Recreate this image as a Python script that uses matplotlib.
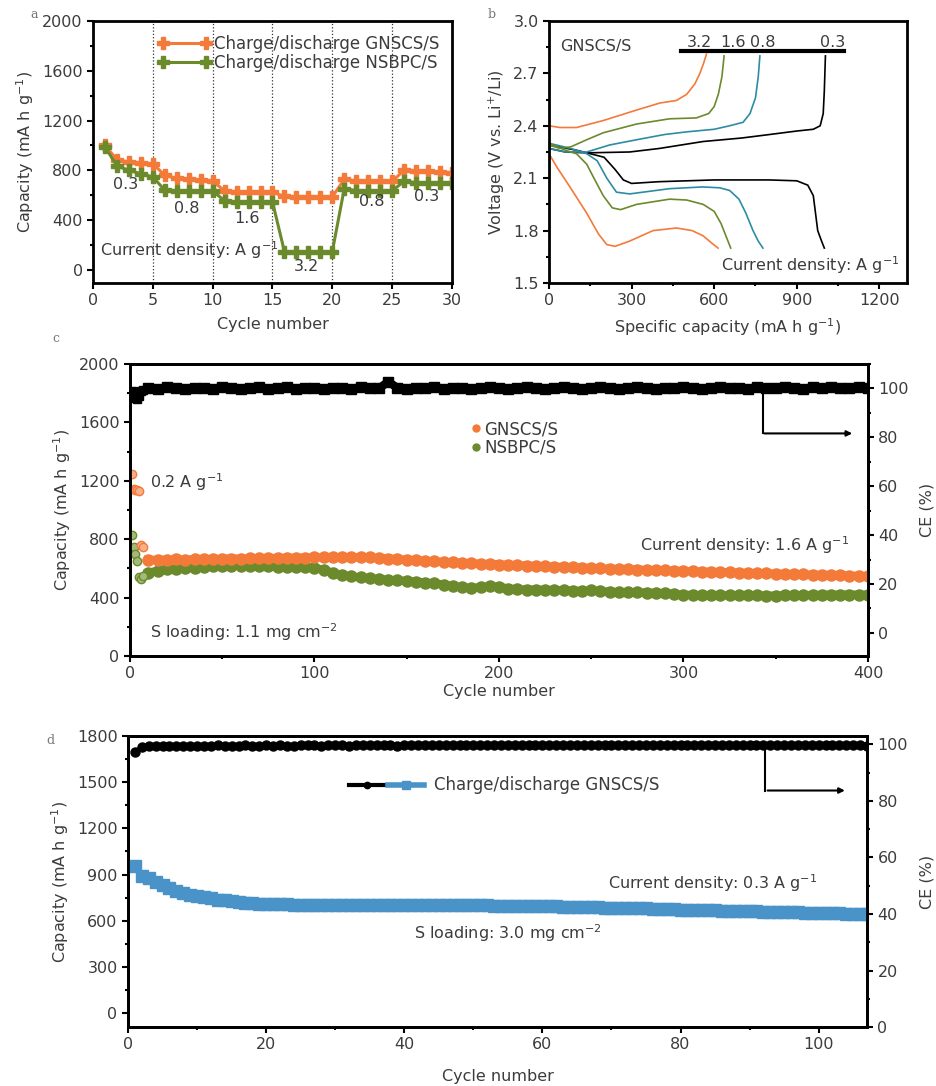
import matplotlib
matplotlib.use("Agg")
import matplotlib.pyplot as plt
import numpy as np
from matplotlib.ticker import MultipleLocator
from matplotlib.legend_handler import HandlerTuple

plt.rcParams['font.family'] = ['DejaVu Sans']
TXT = '#3c3c3c'
ORANGE = '#f47a3a'
GREEN = '#6b8a2c'
TEAL = '#2d8ca3'
BLUE = '#4a93c8'

# ---- panel a: rate capability ----
rate_cycles = np.arange(1, 31)
rate_gnscs = [1000, 885, 867, 861, 853, 760, 735, 728, 720, 715,
              635, 628, 627, 627, 625, 590, 587, 587, 587, 587,
              728, 714, 712, 712, 712, 800, 798, 792, 785, 780]
rate_nsbpc = [988, 835, 800, 773, 747, 640, 635, 635, 635, 635,
              555, 547, 547, 547, 547, 147, 147, 147, 147, 147,
              653, 637, 635, 635, 635, 712, 702, 700, 700, 700]
rate_labels = ['0.3', '0.8', '1.6', '3.2', '0.8', '0.3']
rate_label_x = [2.7, 7.8, 12.9, 17.8, 23.3, 27.9]
rate_label_y = [683, 490, 410, 25, 546, 587]

# ---- panel b: voltage profiles of GNSCS/S (capacity, voltage) ----
dis_32_c = [0, 30, 76, 137, 180, 210, 240, 293, 378, 463, 520, 560, 590, 614]
dis_32_v = [2.24, 2.16, 2.05, 1.90, 1.78, 1.72, 1.71, 1.74, 1.80, 1.815, 1.80, 1.77, 1.73, 1.70]
chg_32_c = [0, 40, 100, 197, 318, 402, 463, 500, 530, 548, 562, 572]
chg_32_v = [2.40, 2.39, 2.39, 2.43, 2.49, 2.53, 2.545, 2.58, 2.64, 2.70, 2.76, 2.81]
dis_16_c = [0, 60, 100, 137, 170, 197, 230, 260, 318, 438, 500, 560, 600, 625, 645, 660]
dis_16_v = [2.30, 2.26, 2.24, 2.18, 2.08, 2.00, 1.93, 1.92, 1.95, 1.98, 1.975, 1.95, 1.91, 1.84, 1.76, 1.70]
chg_16_c = [0, 40, 80, 137, 197, 318, 438, 535, 580, 600, 615, 628, 636]
chg_16_v = [2.29, 2.27, 2.28, 2.32, 2.36, 2.41, 2.44, 2.445, 2.47, 2.51, 2.58, 2.68, 2.80]
dis_08_c = [0, 80, 137, 175, 210, 245, 293, 438, 559, 620, 656, 690, 715, 741, 760, 777]
dis_08_v = [2.30, 2.27, 2.24, 2.20, 2.10, 2.02, 2.01, 2.04, 2.05, 2.045, 2.03, 1.98, 1.90, 1.80, 1.74, 1.70]
chg_08_c = [0, 60, 137, 220, 318, 420, 499, 600, 656, 705, 730, 750, 760, 766]
chg_08_v = [2.27, 2.25, 2.25, 2.29, 2.32, 2.35, 2.365, 2.38, 2.40, 2.42, 2.47, 2.56, 2.68, 2.80]
dis_03_c = [0, 100, 200, 240, 270, 300, 400, 500, 600, 800, 900, 940, 960, 976, 990, 1000]
dis_03_v = [2.29, 2.26, 2.22, 2.15, 2.09, 2.07, 2.08, 2.085, 2.09, 2.09, 2.085, 2.06, 2.00, 1.80, 1.74, 1.70]
chg_03_c = [0, 60, 137, 293, 400, 560, 700, 801, 900, 960, 985, 996, 1000, 1002, 1004]
chg_03_v = [2.27, 2.25, 2.245, 2.25, 2.27, 2.31, 2.33, 2.35, 2.37, 2.38, 2.40, 2.47, 2.60, 2.70, 2.80]
prof_labels = ['3.2', '1.6', '0.8', '0.3']
prof_label_x = [547, 668, 777, 1031]

# ---- panel c: long cycling at 1.6 A/g ----
c_init_cycles = [1, 2, 3, 4, 5, 6, 7]
c_gnscs_init = [1250, 1145, 1140, 1135, 1130, 760, 745]
c_nsbpc_init = [830, 745, 700, 650, 540, 530, 548]
c_cycles = np.arange(10, 401, 5)
c_gnscs = [660, 658, 660, 662, 660, 663, 665, 664, 666, 668,
           667, 669, 670, 671, 672, 672, 673, 674, 675, 676,
           676, 677, 677, 676, 675, 672, 668, 664, 660, 656,
           652, 648, 645, 642, 638, 635, 632, 630, 627, 625,
           622, 620, 617, 615, 612, 610, 607, 605, 602, 600,
           598, 596, 594, 592, 590, 588, 586, 584, 582, 580,
           578, 576, 575, 573, 571, 569, 567, 566, 564, 562,
           561, 559, 557, 556, 554, 552, 551, 549, 547]
c_nsbpc = [570, 585, 595, 598, 600, 605, 610, 615, 620, 620,
           618, 617, 616, 614, 612, 611, 610, 610, 605, 590,
           570, 555, 545, 538, 532, 527, 522, 518, 515, 510,
           503, 497, 490, 480, 470, 466, 472, 478, 475, 462,
           458, 455, 455, 453, 452, 450, 448, 445, 450, 445,
           440, 438, 437, 436, 435, 432, 430, 425, 420, 418,
           417, 417, 416, 416, 415, 415, 415, 414, 414, 415,
           416, 417, 418, 419, 420, 420, 421, 420, 420]
c_ce_init = [99.0, 98.0, 96.0, 95.5, 97.0, 99.0, 99.5]
c_ce = [100.2, 99.8, 100.4, 100.0, 99.6, 100.3, 100.1, 99.9, 100.5, 100.0,
        99.7, 100.2, 100.4, 99.9, 100.1, 100.6, 99.8, 100.0, 100.3, 99.6,
        100.2, 100.0, 99.9, 100.4, 100.1, 100.0, 102.8, 100.2, 99.8, 100.3,
        100.0, 100.5, 99.9, 100.1, 100.3, 99.7, 100.0, 100.4, 100.2, 99.9,
        100.1, 100.5, 100.0, 99.8, 100.3, 100.6, 100.0, 99.9, 100.2, 100.4,
        100.1, 99.8, 100.0, 100.5, 100.2, 99.9, 100.3, 100.1, 100.6, 100.0,
        99.8, 100.2, 100.4, 100.0, 100.3, 99.9, 100.5, 100.2, 100.0, 100.6,
        100.3, 99.9, 100.4, 100.1, 100.6, 100.2, 100.0, 100.5, 100.3]

# ---- panel d: high loading at 0.3 A/g ----
d_cycles = np.arange(1, 108)
d_cap = [955, 890, 880, 850, 830, 810, 795, 782, 770, 760,
         752, 745, 738, 732, 727, 722, 718, 714, 711, 709,
         708, 707, 706, 705, 704, 703, 703, 702, 702, 701,
         701, 700, 700, 700, 700, 700, 700, 700, 700, 700,
         700, 700, 700, 700, 700, 700, 700, 700, 700, 700,
         700, 700, 699, 699, 698, 698, 697, 697, 696, 695,
         694, 693, 692, 691, 690, 689, 688, 687, 686, 685,
         684, 683, 682, 681, 680, 679, 678, 676, 674, 672,
         671, 670, 669, 668, 667, 666, 665, 664, 663, 662,
         661, 660, 659, 658, 657, 656, 655, 653, 651, 650,
         649, 648, 648, 647, 646, 646, 645]
d_ce = [97.5, 99.0, 99.3, 99.4, 99.5, 99.5, 99.6, 99.5, 99.6, 99.6,
        99.5, 99.6, 99.7, 99.6, 99.6, 99.5, 99.7, 99.6, 99.6, 99.7,
        99.6, 99.7, 99.6, 99.5, 99.7, 99.8, 99.7, 99.6, 99.7, 99.8,
        99.7, 99.6, 99.7, 99.8, 99.7, 99.7, 99.8, 99.7, 99.6, 99.7,
        99.8, 99.7, 99.8, 99.7, 99.8, 99.9, 99.8, 99.7, 99.8, 99.8,
        99.9, 99.8, 99.7, 99.8, 99.8, 99.9, 99.8, 99.8, 99.9, 99.8,
        99.8, 99.9, 99.8, 99.7, 99.8, 99.9, 99.8, 99.8, 99.9, 99.8,
        99.9, 99.8, 99.8, 99.9, 99.8, 99.7, 99.8, 99.9, 99.8, 99.8,
        99.9, 99.8, 99.9, 99.8, 99.8, 99.9, 99.8, 99.7, 99.8, 99.9,
        99.8, 99.8, 99.9, 99.8, 99.8, 99.9, 99.8, 99.8, 99.9, 99.8,
        99.8, 99.9, 99.8, 99.8, 99.9, 99.8, 99.5]


def style(ax):
    for s in ax.spines.values():
        s.set_linewidth(2)
    ax.tick_params(which='both', direction='out', width=1.5, labelsize=11.5,
                   labelcolor=TXT, color='k')
    ax.tick_params(which='major', length=4)
    ax.tick_params(which='minor', length=2.5)


fig = plt.figure(figsize=(9.37, 10.86), dpi=100)

# ---------------- a ----------------
axa = fig.add_axes([0.0993, 0.7394, 0.383, 0.2413])
axa.plot(rate_cycles, rate_gnscs, '-', color=ORANGE, lw=2.2, marker='P', ms=8,
         label='Charge/discharge GNSCS/S')
axa.plot(rate_cycles, rate_nsbpc, '-', color=GREEN, lw=2.2, marker='P', ms=8,
         label='Charge/discharge NSBPC/S')
for xv in [5, 10, 15, 20, 25]:
    axa.axvline(xv, ls=':', color='#333333', lw=0.9, zorder=0)
for t, xv, yv in zip(rate_labels, rate_label_x, rate_label_y):
    axa.text(xv, yv, t, ha='center', va='center', fontsize=11.5, color=TXT)
axa.text(0.6, 160, 'Current density: A g$^{-1}$', fontsize=11.5, color=TXT, va='center')
axa.set_xlim(0, 30)
axa.set_ylim(-105, 2000)
axa.xaxis.set_major_locator(MultipleLocator(5))
axa.yaxis.set_major_locator(MultipleLocator(400))
axa.yaxis.set_minor_locator(MultipleLocator(200))
axa.set_xlabel('Cycle number', fontsize=11.5, color=TXT, labelpad=6)
axa.set_ylabel('Capacity (mA h g$^{-1}$)', fontsize=11.5, color=TXT, labelpad=4)
axa.legend(loc='center right', bbox_to_anchor=(0.985, 0.875), frameon=False,
           fontsize=12, numpoints=2, handlelength=3.2, handletextpad=0.2,
           labelspacing=0.05, labelcolor=TXT, borderaxespad=0)
style(axa)

# ---------------- b ----------------
axb = fig.add_axes([0.5859, 0.7394, 0.382, 0.2413])
for dc, dv, cc, cv, col in [(dis_03_c, dis_03_v, chg_03_c, chg_03_v, 'k'),
                            (dis_08_c, dis_08_v, chg_08_c, chg_08_v, TEAL),
                            (dis_16_c, dis_16_v, chg_16_c, chg_16_v, GREEN),
                            (dis_32_c, dis_32_v, chg_32_c, chg_32_v, ORANGE)]:
    axb.plot(dc, dv, color=col, lw=1.2)
    axb.plot(cc, cv, color=col, lw=1.2)
axb.plot([481, 1073], [2.828, 2.828], color='k', lw=3)
for t, xv in zip(prof_labels, prof_label_x):
    axb.text(xv, 2.835, t, ha='center', va='bottom', fontsize=11.5, color=TXT)
axb.text(40, 2.855, 'GNSCS/S', fontsize=11.5, color=TXT, va='center')
axb.text(1275, 1.60, 'Current density: A g$^{-1}$', fontsize=11.5, color=TXT,
         va='center', ha='right')
axb.set_xlim(0, 1300)
axb.set_ylim(1.5, 3.0)
axb.xaxis.set_major_locator(MultipleLocator(300))
axb.xaxis.set_minor_locator(MultipleLocator(150))
axb.yaxis.set_major_locator(MultipleLocator(0.3))
axb.yaxis.set_minor_locator(MultipleLocator(0.15))
axb.yaxis.set_major_formatter(matplotlib.ticker.FormatStrFormatter('%.1f'))
axb.set_xlabel('Specific capacity (mA h g$^{-1}$)', fontsize=11.5, color=TXT, labelpad=6)
axb.set_ylabel('Voltage (V vs. Li$^{+}$/Li)', fontsize=11.5, color=TXT, labelpad=4)
style(axb)

# ---------------- c ----------------
axc = fig.add_axes([0.1387, 0.3959, 0.7876, 0.2689])
axc2 = axc.twinx()
axc.plot(c_cycles, c_nsbpc, 'o-', color=GREEN, ms=8, lw=6, mec=GREEN, zorder=3)
axc.plot(c_init_cycles, c_nsbpc_init, 'o', color=GREEN, ms=6, mfc='#a4b87a', zorder=3)
axc.plot(c_cycles, c_gnscs, 'o-', color=ORANGE, ms=8, lw=6, mec=ORANGE, zorder=4)
axc.plot(c_init_cycles, c_gnscs_init, 'o', color=ORANGE, ms=6, mfc='#f9b08a', zorder=4)
axc2.plot(c_init_cycles, c_ce_init, 's-', color='k', ms=6, lw=2)
axc2.plot(c_cycles, c_ce, 's-', color='k', ms=7, lw=6)
axc2.plot([343, 343], [98.5, 81.6], color='k', lw=1.5)
axc2.annotate('', xy=(393, 81.6), xytext=(342.3, 81.6),
              arrowprops=dict(arrowstyle='-|>', color='k', lw=1.5, mutation_scale=8))
axc.text(11, 1190, '0.2 A g$^{-1}$', fontsize=11.5, color=TXT, va='center')
axc.text(11, 165, 'S loading: 1.1 mg cm$^{-2}$', fontsize=11.5, color=TXT, va='center')
axc.text(390, 760, 'Current density: 1.6 A g$^{-1}$', fontsize=11.5, color=TXT,
         va='center', ha='right')
axc.set_xlim(0, 400)
axc.set_ylim(0, 2000)
axc2.set_ylim(-9.5, 110)
axc.xaxis.set_major_locator(MultipleLocator(100))
axc.xaxis.set_minor_locator(MultipleLocator(50))
axc.yaxis.set_major_locator(MultipleLocator(400))
axc.yaxis.set_minor_locator(MultipleLocator(200))
axc2.set_yticks([0, 20, 40, 60, 80, 100])
axc2.yaxis.set_minor_locator(MultipleLocator(10))
axc.set_xlabel('Cycle number', fontsize=11.5, color=TXT, labelpad=2)
axc.set_ylabel('Capacity (mA h g$^{-1}$)', fontsize=11.5, color=TXT, labelpad=4)
axc2.set_ylabel('CE (%)', fontsize=11.5, color=TXT, labelpad=8)
hc1, = axc.plot([], [], 'o', color=ORANGE, ms=5)
hc2, = axc.plot([], [], 'o', color=GREEN, ms=5)
axc.legend([hc1, hc2], ['GNSCS/S', 'NSBPC/S'], loc='center left',
           bbox_to_anchor=(0.455, 0.745), frameon=False, fontsize=12,
           handlelength=0.4, handletextpad=0.3, labelspacing=0.05,
           labelcolor=TXT, borderaxespad=0)
style(axc)
style(axc2)

# ---------------- d ----------------
axd = fig.add_axes([0.1366, 0.0543, 0.7887, 0.268])
axd2 = axd.twinx()
hb, = axd.plot(d_cycles, d_cap, 's-', color=BLUE, ms=8, lw=4, zorder=3)
hk, = axd2.plot(d_cycles, d_ce, 'o-', color='k', ms=6.5, lw=3)
axd2.plot([92.3, 92.3], [98.8, 83.7], color='k', lw=1.5)
axd2.annotate('', xy=(104.2, 83.7), xytext=(92.2, 83.7),
              arrowprops=dict(arrowstyle='-|>', color='k', lw=1.5, mutation_scale=8))
axd.text(69.5, 845, 'Current density: 0.3 A g$^{-1}$', fontsize=11.5, color=TXT, va='center')
axd.text(41.4, 520, 'S loading: 3.0 mg cm$^{-2}$', fontsize=11.5, color=TXT, va='center')
axd.set_xlim(0, 107)
axd.set_ylim(-90, 1800)
axd2.set_ylim(0, 103)
axd.xaxis.set_major_locator(MultipleLocator(20))
axd.xaxis.set_minor_locator(MultipleLocator(10))
axd.yaxis.set_major_locator(MultipleLocator(300))
axd.yaxis.set_minor_locator(MultipleLocator(150))
axd2.yaxis.set_major_locator(MultipleLocator(20))
axd2.yaxis.set_minor_locator(MultipleLocator(10))
axd.set_xlabel('Cycle number', fontsize=11.5, color=TXT, labelpad=12)
axd.set_ylabel('Capacity (mA h g$^{-1}$)', fontsize=11.5, color=TXT, labelpad=4)
axd2.set_ylabel('CE (%)', fontsize=11.5, color=TXT, labelpad=8)
axd.legend([(hk, hb)], ['Charge/discharge GNSCS/S'],
           handler_map={tuple: HandlerTuple(ndivide=None, pad=0.2)},
           loc='center left', bbox_to_anchor=(0.29, 0.83), frameon=False,
           fontsize=12, handlelength=4.5, handletextpad=0.6, markerscale=0.7,
           labelcolor=TXT, borderaxespad=0)
style(axd)
style(axd2)

for lab, xx, yy in [('a', 30, 15), ('b', 488, 15), ('c', 52, 338), ('d', 46, 740)]:
    fig.text(xx / 937, 1 - yy / 1086, lab, fontsize=9, color='#777777',
             family='DejaVu Serif', va='center')

fig.savefig('out.png', dpi=100)
